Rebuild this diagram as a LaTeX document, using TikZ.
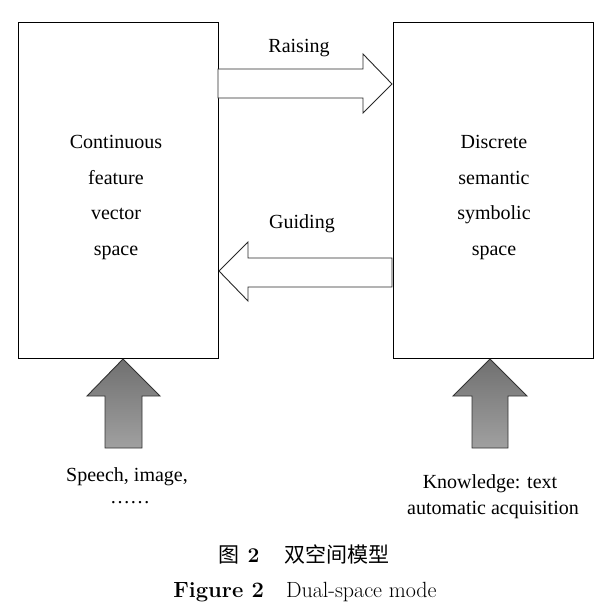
\documentclass[tikz,border=0pt]{standalone}
\usepackage{fontspec}
\newfontfamily\tnr{Liberation Serif}
\newfontfamily\cjk{Noto Sans CJK SC}
\definecolor{arrtop}{RGB}{112,112,112}
\definecolor{arrbot}{RGB}{160,160,160}
\definecolor{lin}{RGB}{40,40,40}
\begin{document}
\begin{tikzpicture}[x=1pt,y=-1pt,
  spacebox/.style={draw=black,line width=0.9pt,minimum width=200pt,minimum height=336pt,anchor=north west,inner sep=0pt},
  boxtext/.style={font={\tnr\fontsize{20}{35.5}\selectfont},align=center,inner sep=0pt},
  lbl/.style={font={\tnr\fontsize{20}{26}\selectfont},align=center,inner sep=0pt},
  openarrow/.style={draw=lin,line width=0.9pt,fill=white,line join=miter},
  grayarrow/.style={draw=black!80,line width=0.9pt,top color=arrtop,bottom color=arrbot,line join=miter}]
\useasboundingbox (0,0) rectangle (611,614);
\node[spacebox] (L) at (18,22) {};
\node[spacebox] (R) at (393,22) {};
\node[boxtext] (Lt) at (116,197.5) {Continuous\\feature\\vector\\space};
\node[boxtext] (Rt) at (494,197.5) {Discrete\\semantic\\symbolic\\space};
% Raising arrow
\draw[openarrow] (218,69) -- (363,69) -- (363,54) -- (392,84) -- (363,113) -- (363,98) -- (218,98) -- cycle;
\node[lbl] (raise) at (299,48.5) {Raising};
% Guiding arrow
\draw[openarrow] (392,258) -- (248,258) -- (248,242) -- (219,271) -- (248,301) -- (248,287) -- (392,287) -- cycle;
\node[lbl] (guide) at (302,224) {Guiding};
% bottom arrows
\draw[grayarrow] (123,359) -- (160,396) -- (142,396) -- (142,448) -- (105,448) -- (105,396) -- (87,396) -- cycle;
\draw[grayarrow] (490,359) -- (527,396) -- (508,396) -- (508,448) -- (472,448) -- (472,396) -- (453,396) -- cycle;
\node[lbl,anchor=base] (sp) at (127,481) {Speech, image,};
\node[lbl,anchor=base] (dots) at (130,503) {\dots\dots};
\node[lbl,anchor=base] (kn) at (490,488) {Knowledge: text};
\node[lbl,anchor=base] (aa) at (493,514) {automatic acquisition};
\node[inner sep=0pt,anchor=base,font={\fontsize{21}{24}\selectfont}] (cap1) at (304,562) {{\cjk 图}\hspace{0.4em}\textbf{2}\hspace{1.2em}{\cjk 双空间模型}};
\node[inner sep=0pt,anchor=base,font={\fontsize{22}{24}\selectfont}] (cap2) at (305,597) {\textbf{Figure 2}\hspace{1em}Dual-space mode};
\end{tikzpicture}
\end{document}
